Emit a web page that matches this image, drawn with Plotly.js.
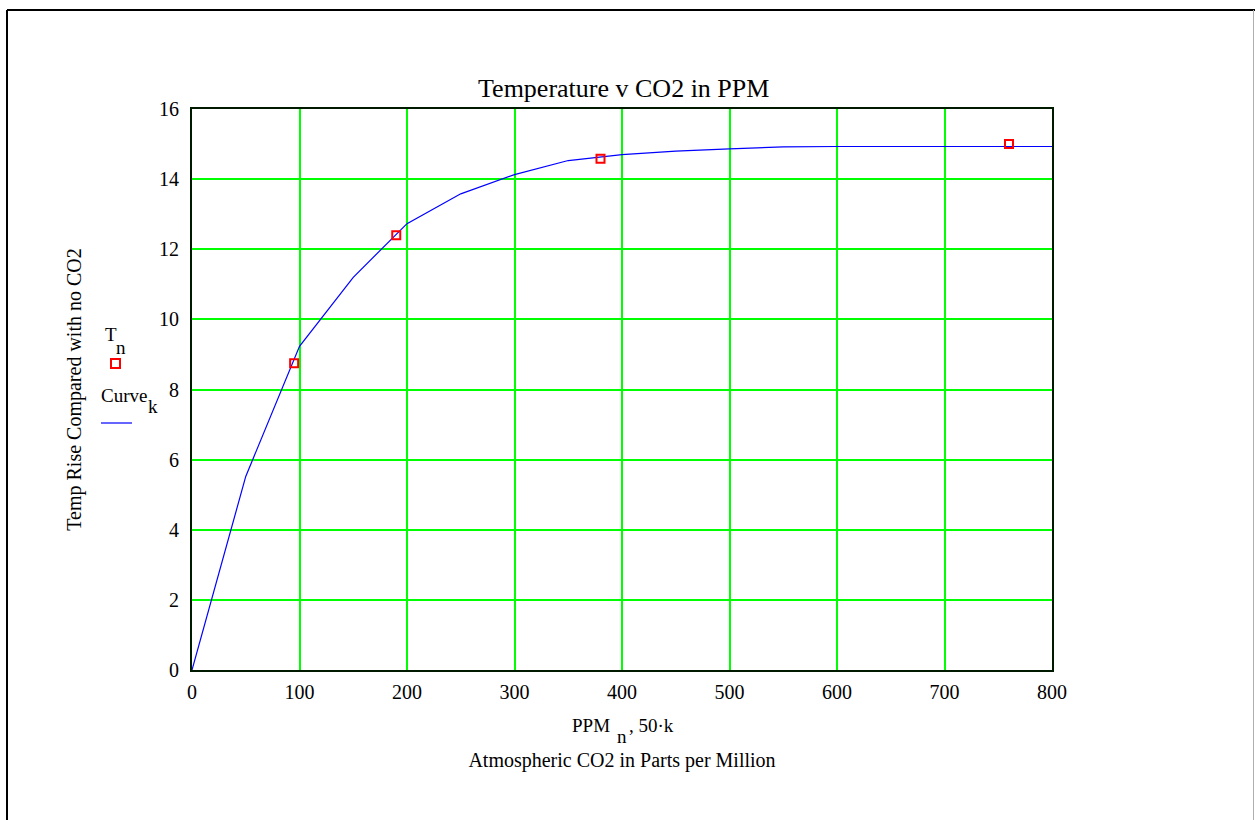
<!DOCTYPE html>
<html>
<head>
<meta charset="utf-8">
<script src="https://cdn.plot.ly/plotly-3.0.1.min.js"></script>
<style>
  html, body { margin: 0; padding: 0; background: #ffffff; }
  #chart { width: 1255px; height: 820px; }
</style>
</head>
<body>
<div id="chart"></div>
<script>
// ---- Data ----
// Curve_k evaluated at 50·k
var curveX = [0, 50, 100, 150, 200, 250, 300, 350, 400, 450, 500, 550, 600, 650, 700, 750, 800];
var curveY = [0, 5.52, 9.23, 11.2, 12.73, 13.58, 14.13, 14.53, 14.70, 14.80, 14.86, 14.92, 14.93, 14.93, 14.93, 14.93, 14.93];
// T_n at PPM_n
var ppmN = [95, 190, 380, 760];
var tempN = [8.75, 12.4, 14.58, 15.0];

var xTickVals = [0, 100, 200, 300, 400, 500, 600, 700, 800];
var yTickVals = [0, 2, 4, 6, 8, 10, 12, 14, 16];

// ---- Layout helpers (pixel -> paper) ----
var W = 1255, H = 820;
var M = {l: 192, r: 203, t: 109, b: 150};
var PW = W - M.l - M.r, PH = H - M.t - M.b;
function px(x) { return (x - M.l) / PW; }
function py(y) { return (H - M.b - y) / PH; }

var serif = 'Liberation Serif, Times New Roman, serif';

function label(text, x, y, xanchor, size) {
  return {
    text: text, xref: 'paper', yref: 'paper',
    x: px(x), y: py(y), xanchor: xanchor, yanchor: 'middle',
    showarrow: false,
    font: {family: serif, size: size, color: '#000000'}
  };
}

var traces = [
  {
    x: curveX, y: curveY, mode: 'lines', name: 'Curve_k',
    line: {color: '#0000ff', width: 1.2},
    showlegend: false, hoverinfo: 'x+y'
  },
  {
    x: ppmN, y: tempN, mode: 'markers', name: 'T_n',
    marker: {symbol: 'square-open', size: 8, color: '#ff0000', line: {color: '#ff0000', width: 2}},
    showlegend: false, hoverinfo: 'x+y'
  }
];

var layout = {
  width: W, height: H,
  margin: M,
  paper_bgcolor: '#ffffff',
  plot_bgcolor: '#ffffff',
  font: {family: serif, color: '#000000', size: 19},
  title: {
    text: 'Temperature v CO2 in PPM',
    font: {family: serif, size: 26, color: '#000000'},
    xref: 'paper', x: 0.502, xanchor: 'center',
    yref: 'container', y: 1 - 88 / H, yanchor: 'middle'
  },
  xaxis: {
    range: [0, 800],
    tickvals: xTickVals,
    ticks: '',
    ticklabelstandoff: 3,
    tickfont: {family: serif, size: 20, color: '#000000'},
    showgrid: true, gridcolor: '#00ff00', gridwidth: 2,
    zeroline: false,
    showline: true, linecolor: '#001a00', linewidth: 2, mirror: true,
    title: {
      text: 'Atmospheric CO2 in Parts per Million',
      font: {family: serif, size: 20, color: '#000000'},
      standoff: 51
    },
    automargin: false,
    fixedrange: true
  },
  yaxis: {
    range: [0, 16],
    tickvals: yTickVals,
    ticks: '',
    ticklabelstandoff: 7,
    tickfont: {family: serif, size: 20, color: '#000000'},
    showgrid: true, gridcolor: '#00ff00', gridwidth: 2,
    zeroline: false,
    showline: true, linecolor: '#001a00', linewidth: 2, mirror: true,
    title: {
      text: 'Temp Rise Compared with no CO2',
      font: {family: serif, size: 20, color: '#000000'},
      standoff: 72
    },
    automargin: false,
    fixedrange: true
  },
  annotations: [
    // x-axis expression: PPM_n, 50·k
    label('PPM', 612, 725, 'right', 19),
    label('n', 622, 736, 'center', 19),
    label(', 50·k', 627, 725, 'left', 19),
    // legend: T_n
    label('T', 103, 334, 'left', 19),
    label('n', 121, 347, 'center', 19),
    // legend: Curve_k
    label('Curve', 99, 395, 'left', 19),
    label('k', 153, 406, 'center', 19)
  ],
  shapes: [
    // legend sample: red square
    {
      type: 'rect', xref: 'paper', yref: 'paper',
      x0: px(111), x1: px(120), y0: py(368), y1: py(359),
      line: {color: '#ff0000', width: 2}, fillcolor: 'rgba(0,0,0,0)'
    },
    // legend sample: blue line
    {
      type: 'line', xref: 'paper', yref: 'paper',
      x0: px(101), x1: px(132), y0: py(423), y1: py(423),
      line: {color: '#0000ff', width: 1.2}
    },
    // outer frame: top and left black, right grey
    {
      type: 'line', xref: 'paper', yref: 'paper',
      x0: px(7), x1: px(1255), y0: py(10), y1: py(10),
      line: {color: '#000000', width: 2}
    },
    {
      type: 'line', xref: 'paper', yref: 'paper',
      x0: px(7), x1: px(7), y0: py(10), y1: py(830),
      line: {color: '#000000', width: 2}
    },
    {
      type: 'line', xref: 'paper', yref: 'paper',
      x0: px(1253.5), x1: px(1253.5), y0: py(10), y1: py(830),
      line: {color: '#b0b0b0', width: 1}
    }
  ]
};

Plotly.newPlot('chart', traces, layout, {displayModeBar: false, staticPlot: true});
</script>
</body>
</html>
